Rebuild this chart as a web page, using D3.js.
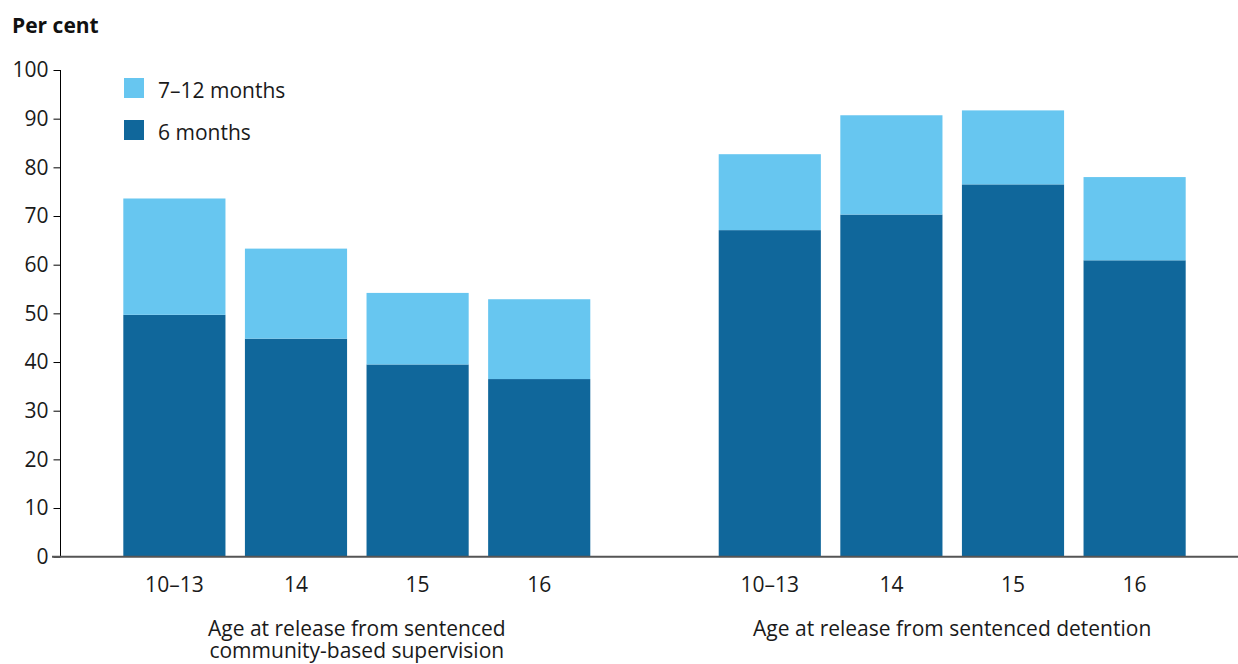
<!DOCTYPE html>
<html>
<head>
<meta charset="utf-8">
<script src="https://cdn.jsdelivr.net/npm/d3@7"></script>
<style>
  html, body { margin: 0; padding: 0; background: #fff; }
  svg { display: block; font-family: "Open Sans", "Noto Sans", sans-serif; }
</style>
</head>
<body>
<svg id="chart" width="1238" height="664"></svg>
<script>
// ---- data ----
const groups = ["community", "detention"];
const groupLabels = [
  ["Age at release from sentenced", "community-based supervision"],
  ["Age at release from sentenced detention"]
];
const ages = ["10–13", "14", "15", "16"];
const seriesNames = ["6 months", "7–12 months"];
// within 6 months (base of stack)
const sixMonths = {
  community: [49.7, 44.8, 39.5, 36.5],
  detention: [67.1, 70.3, 76.5, 60.9]
};
// within 7–12 months (additional, stacked on top)
const sevenToTwelve = {
  community: [23.9, 18.5, 14.7, 16.4],
  detention: [15.6, 20.4, 15.2, 17.1]
};
const yTicks = [0, 10, 20, 30, 40, 50, 60, 70, 80, 90, 100];
const colors = { "6 months": "#10679b", "7–12 months": "#67c6f0" };
const FS = 21;

// ---- build ----
const svg = d3.select("#chart");
const y = d3.scaleLinear().domain([0, 100]).range([556.7, 70]);

const xOuter = d3.scaleBand().domain(groups).range([60, 1249])
  .paddingInner(0.183).paddingOuter(0.09);
const xInner = d3.scaleBand().domain(ages).range([0, xOuter.bandwidth()])
  .paddingInner(0.16).paddingOuter(0.08);

const rows = [];
groups.forEach(g => ages.forEach((a, i) => {
  rows.push({ group: g, age: a, "6 months": sixMonths[g][i], "7–12 months": sevenToTwelve[g][i] });
}));
const stacked = d3.stack().keys(seriesNames)(rows);

// bars
const barG = svg.append("g");
stacked.forEach(layer => {
  barG.append("g").attr("fill", colors[layer.key])
    .selectAll("rect").data(layer).join("rect")
    .attr("x", d => xOuter(d.data.group) + xInner(d.data.age))
    .attr("width", xInner.bandwidth())
    .attr("y", d => y(d[1]))
    .attr("height", d => y(d[0]) - y(d[1]));
});

// y axis
const yAxis = svg.append("g").attr("transform", "translate(60.5,0)")
  .call(d3.axisLeft(y).tickValues(yTicks).tickSize(7).tickPadding(5).tickFormat(d3.format("d")));
yAxis.select(".domain").attr("stroke", "#000").attr("d", `M0,${y(100)}V${y(0)}`);
yAxis.selectAll(".tick line").attr("stroke", "#000");
yAxis.selectAll(".tick text").attr("font-size", FS).attr("fill", "#1a1a1a")
  .attr("font-family", '"Open Sans", sans-serif');

// x axes (per group)
groups.forEach((g, gi) => {
  const ax = svg.append("g").attr("transform", `translate(${xOuter(g)},${y(0)})`)
    .call(d3.axisBottom(xInner).tickSize(0).tickPadding(20));
  ax.select(".domain").remove();
  ax.selectAll(".tick text").attr("font-size", FS).attr("fill", "#1a1a1a")
    .attr("font-family", '"Open Sans", sans-serif');
  const cx = xOuter(g) + xOuter.bandwidth() / 2;
  const lbl = svg.append("text")
    .attr("x", cx).attr("y", 636)
    .attr("text-anchor", "middle")
    .attr("font-size", FS).attr("fill", "#1a1a1a");
  groupLabels[gi].forEach((t, li) => {
    lbl.append("tspan").attr("x", cx).attr("dy", li === 0 ? 0 : 22).text(t);
  });
});

// x baseline
svg.append("line")
  .attr("x1", 52).attr("x2", 1238)
  .attr("y1", y(0)).attr("y2", y(0))
  .attr("stroke", "#555").attr("stroke-width", 2);

// title
svg.append("text").attr("x", 12).attr("y", 33)
  .attr("font-size", FS).attr("font-weight", "bold").attr("fill", "#111")
  .text("Per cent");

// legend
const legendItems = ["7–12 months", "6 months"];
const lg = svg.append("g").attr("transform", "translate(124,78)");
legendItems.forEach((k, i) => {
  const row = lg.append("g").attr("transform", `translate(0,${i * 42})`);
  row.append("rect").attr("width", 20).attr("height", 20).attr("fill", colors[k]);
  row.append("text").attr("x", 34).attr("y", 20).attr("font-size", FS)
    .attr("fill", "#1a1a1a").text(k);
});
</script>
</body>
</html>
